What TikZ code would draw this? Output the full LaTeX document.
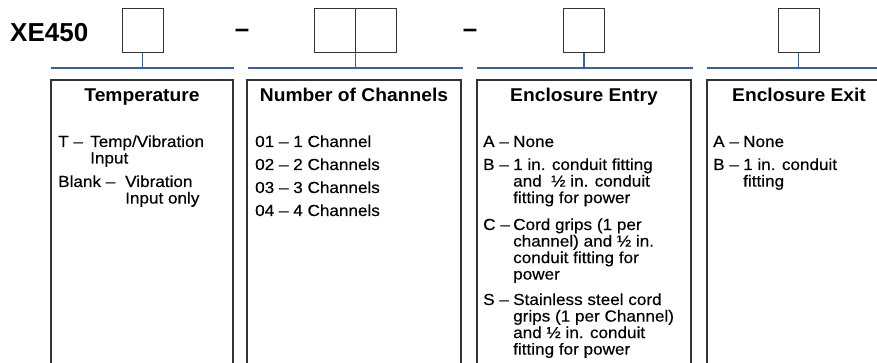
\documentclass[tikz,border=0pt]{standalone}
\usepackage{fontspec}
\setmainfont{Liberation Sans}
\newfontfamily\bodyfont[FakeStretch=1.07, FakeBold=0.3]{Liberation Sans}
\newfontfamily\headfont[FakeStretch=1.04]{Liberation Sans}
\definecolor{barblue}{RGB}{62,96,152}

\begin{document}
\begin{tikzpicture}[x=1pt, y=-1pt,
    digit/.style={draw=black!80, line width=1pt, minimum width=41pt, minimum height=44pt, inner sep=0pt},
    bar/.style={draw=barblue, line width=1.6pt},
    panel/.style={draw=black!80, line width=1.6pt},
    head/.style={anchor=base, inner sep=0pt, font=\headfont\fontsize{18.5}{20}\selectfont\bfseries},
    opt/.style={anchor=base west, inner sep=0pt, font=\bodyfont\fontsize{16}{16.5}\selectfont},
    big/.style={anchor=base west, inner sep=0pt, font=\fontsize{26}{28}\selectfont\bfseries}]

    \useasboundingbox (0, 0) rectangle (877, 363);

    % \draw [help lines, step=50] (0, 0) grid (877, 363);

    % model number and the code boxes
    \node [big] (model) at (10, 42) {XE450};
    \node [digit] (box1)  at (142.5, 31) {};
    \node [big, anchor=base] (dash1) at (242, 37.5) {–};
    \node [digit] (box2a) at (334.5, 31) {};
    \node [digit] (box2b) at (375.5, 31) {};
    \node [big, anchor=base] (dash2) at (470, 37.5) {–};
    \node [digit] (box3)  at (584,   31) {};
    \node [digit] (box4)  at (798.5, 31) {};

    % blue bars
    \draw [bar] ( 51, 68) -- (234, 68);
    \draw [bar] (248, 68) -- (463, 68);
    \draw [bar] (477, 68) -- (693, 68);
    \draw [bar] (707, 68) -- (877, 68);

    \draw [bar] (box1.south)       -- ++(0, 15);
    \draw [bar] (box2a.south east) -- ++(0, 15);
    \draw [bar] (box3.south)       -- ++(0, 15);
    \draw [bar] (box4.south)       -- ++(0, 15);

    % panels, open at the bottom
    \draw [panel] ( 51, 363) -- ( 51, 80) -- (233, 80) -- (233, 363);
    \draw [panel] (247, 363) -- (247, 80) -- (461, 80) -- (461, 363);
    \draw [panel] (477, 363) -- (477, 80) -- (691, 80) -- (691, 363);
    \draw [panel] (707, 363) -- (707, 80) -- (891, 80) -- (891, 363);

    \node [head] (temp) at (142, 102) {Temperature};
    \node [head] (chan) at (354, 102) {Number of Channels};
    \node [head] (entr) at (584, 102) {Enclosure Entry};
    \node [head] (exit) at (799, 102) {Enclosure Exit};

    % temperature
    \node [opt] (tT)     at ( 58, 147) {T –};
    \node [opt] (tTd)    at ( 90, 147) {\begin{tabular}[t]{@{}l@{}}Temp/Vibration\\Input\end{tabular}};
    \node [opt] (tB)     at ( 58, 187) {Blank –};
    \node [opt] (tBd)    at (125, 187) {\begin{tabular}[t]{@{}l@{}}Vibration\\Input only\end{tabular}};

    % channels
    \node [opt] (c01) at (255, 147) {01 – 1 Channel};
    \node [opt] (c02) at (255, 170) {02 – 2 Channels};
    \node [opt] (c03) at (255, 193) {03 – 3 Channels};
    \node [opt] (c04) at (255, 216) {04 – 4 Channels};

    % enclosure entry
    \node [opt] (eA)  at (483, 147) {A –};
    \node [opt] (eAd) at (513, 147) {None};
    \node [opt] (eB)  at (483, 170) {B –};
    \node [opt] (eBd) at (513, 170) {\begin{tabular}[t]{@{}l@{}}1 in. conduit fitting\\and~ ½ in. conduit\\fitting for power\end{tabular}};
    \node [opt] (eC)  at (483, 230) {C –};
    \node [opt] (eCd) at (513, 230) {\begin{tabular}[t]{@{}l@{}}Cord grips (1 per\\channel) and ½ in.\\conduit fitting for\\power\end{tabular}};
    \node [opt] (eS)  at (483, 305) {S –};
    \node [opt] (eSd) at (513, 305) {\begin{tabular}[t]{@{}l@{}}Stainless steel cord\\grips (1 per Channel)\\and ½ in. conduit\\fitting for power\end{tabular}};

    % enclosure exit
    \node [opt] (xA)  at (713, 147) {A –};
    \node [opt] (xAd) at (743, 147) {None};
    \node [opt] (xB)  at (713, 170) {B –};
    \node [opt] (xBd) at (743, 170) {\begin{tabular}[t]{@{}l@{}}1 in. conduit\\fitting\end{tabular}};

\end{tikzpicture}
\end{document}
